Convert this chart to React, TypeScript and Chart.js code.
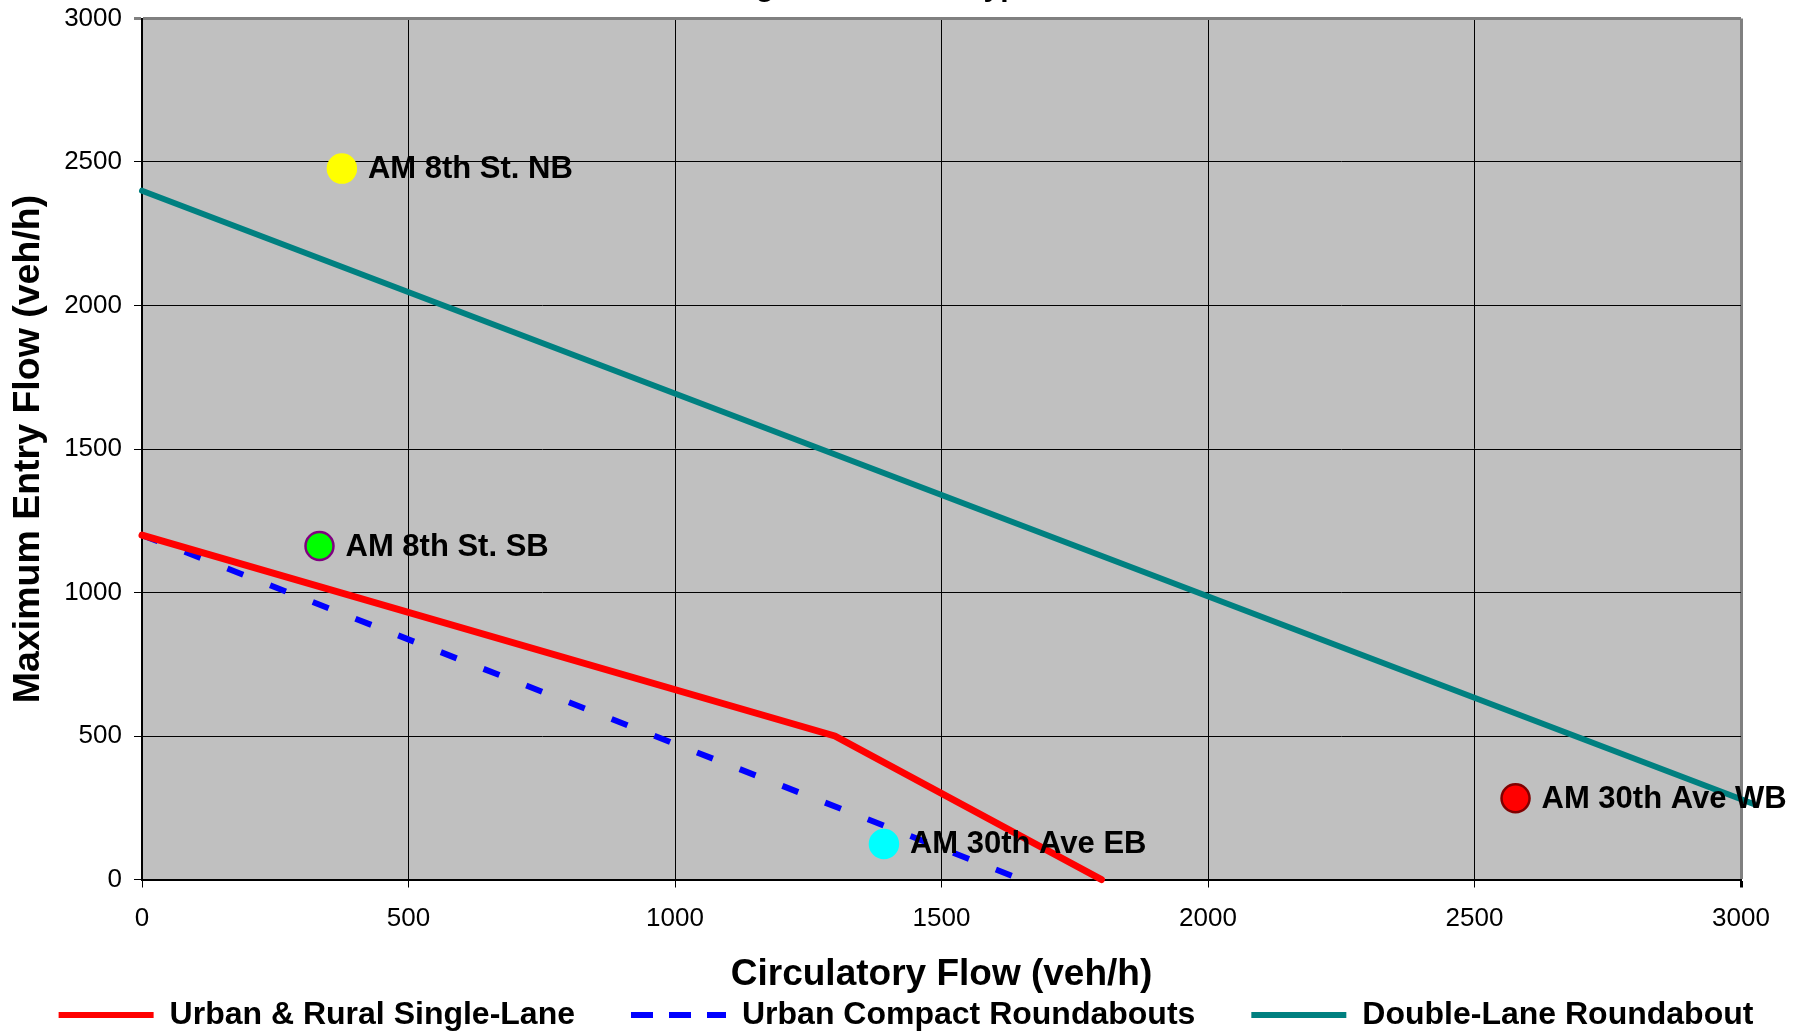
import React, { useEffect, useRef } from "react";
import { Chart, registerables } from "chart.js";

Chart.register(...registerables);

const chartTitle = "AM Peak Hour Volumes Using Roundabout Type";
const xAxisTitle = "Circulatory Flow (veh/h)";
const yAxisTitle = "Maximum Entry Flow (veh/h)";

const seriesNames = ["Urban & Rural Single-Lane", "Urban Compact Roundabouts", "Double-Lane Roundabout"];
const seriesColors = ["#FF0000", "#0000FF", "#008080"];
const seriesDash = [[], [17, 28.85], []];
const legendDash = [[], [22, 16], []];

const singleLaneX = [0, 1300, 1800];
const singleLaneY = [1200, 500, 0];
const compactX = [0, 1650];
const compactY = [1200, 0];
const doubleLaneX = [0, 3025];
const doubleLaneY = [2400, 262];

const pointNames = ["AM 8th St. NB", "AM 8th St. SB", "AM 30th Ave EB", "AM 30th Ave WB"];
const pointX = [375, 333, 1392, 2577];
const pointY = [2477, 1162, 124, 283];
const pointFill = ["#FFFF00", "#00FF00", "#00FFFF", "#FF0000"];
const pointBorder = ["#FFFF00", "#800080", "#00FFFF", "#800000"];

const axisMin = 0;
const axisMax = 3000;
const axisStep = 500;

const FONT = "'Liberation Sans', Arial, Helvetica, sans-serif";
const CANVAS_W = 1812;
const CANVAS_H = 1081;
const SHIFT = 40;
const LEGEND_PAD = 56;

function pairs(xs: number[], ys: number[]) {
  return xs.map((x, i) => ({ x, y: ys[i] }));
}

const plotBackground = {
  id: "plotBackground",
  beforeDraw(chart: any) {
    const { ctx, chartArea } = chart;
    ctx.save();
    ctx.fillStyle = "#C0C0C0";
    ctx.fillRect(chartArea.left, chartArea.top, chartArea.right - chartArea.left, chartArea.bottom - chartArea.top);
    ctx.restore();
  },
};

const pointLabels = {
  id: "pointLabels",
  afterDatasetsDraw(chart: any) {
    const { ctx } = chart;
    ctx.save();
    ctx.font = `bold 31px ${FONT}`;
    ctx.fillStyle = "#000000";
    ctx.textAlign = "left";
    ctx.textBaseline = "middle";
    chart.data.datasets.forEach((ds: any, i: number) => {
      if (!ds.isMarker) return;
      const meta = chart.getDatasetMeta(i);
      const el = meta.data[0];
      if (!el) return;
      ctx.fillText(ds.label, el.x + 26, el.y + 1);
    });
    ctx.restore();
  },
};

const topTitle = {
  id: "topTitle",
  afterDraw(chart: any) {
    const { ctx } = chart;
    ctx.save();
    ctx.font = `bold 30px ${FONT}`;
    ctx.fillStyle = "#000000";
    ctx.textBaseline = "alphabetic";
    ctx.textAlign = "left";
    const idx = chartTitle.indexOf("Using") + 4;
    const pre = ctx.measureText(chartTitle.slice(0, idx)).width;
    const gw = ctx.measureText("g").width;
    const x0 = 765 - pre - gw / 2;
    ctx.fillText(chartTitle, x0, SHIFT - 4);
    ctx.restore();
  },
};

export default function App() {
  const ref = useRef<HTMLCanvasElement | null>(null);

  useEffect(() => {
    if (!ref.current) return;
    Chart.defaults.font.family = FONT;
    Chart.defaults.color = "#000000";

    const lineSets = [
      { data: pairs(singleLaneX, singleLaneY), width: 7, cap: "round" },
      { data: pairs(compactX, compactY), width: 6, cap: "butt" },
      { data: pairs(doubleLaneX, doubleLaneY), width: 6, cap: "round" },
    ].map((s, i) => ({
      label: seriesNames[i],
      data: s.data,
      showLine: true,
      borderColor: seriesColors[i],
      backgroundColor: seriesColors[i],
      borderWidth: s.width,
      borderDash: seriesDash[i],
      borderCapStyle: s.cap,
      borderJoinStyle: "round",
      pointRadius: 0,
      pointHoverRadius: 0,
      clip: false,
      order: 2,
    }));

    const markerSets = pointNames.map((name, i) => ({
      label: name,
      isMarker: true,
      data: [{ x: pointX[i], y: pointY[i] }],
      showLine: false,
      pointRadius: 14,
      pointHoverRadius: 14,
      pointBackgroundColor: pointFill[i],
      pointBorderColor: pointBorder[i],
      pointBorderWidth: 2.5,
      backgroundColor: pointFill[i],
      borderColor: pointBorder[i],
      clip: false,
      order: 1,
    }));

    const gridColor = (c: any) => (c.tick && c.tick.value === axisMax ? "#808080" : "#000000");
    const gridWidth = (c: any) => (c.tick && c.tick.value === axisMax ? 3 : 1);

    const chart = new Chart(ref.current, {
      type: "scatter",
      data: { datasets: [...lineSets, ...markerSets] as any },
      plugins: [plotBackground, pointLabels, topTitle],
      options: {
        responsive: false,
        animation: false,
        events: [],
        layout: { padding: { top: SHIFT + 18.5, right: 0, bottom: 0, left: 0 } },
        plugins: {
          title: { display: false },
          tooltip: { enabled: false },
          legend: {
            display: true,
            position: "bottom",
            labels: {
              usePointStyle: true,
              pointStyle: "line",
              pointStyleWidth: 95,
              padding: LEGEND_PAD,
              color: "#000000",
              font: { family: FONT, size: 32, weight: "bold" },
              generateLabels: () =>
                seriesNames.map((name, i) => ({
                  text: name,
                  datasetIndex: i,
                  hidden: false,
                  fillStyle: seriesColors[i],
                  strokeStyle: seriesColors[i],
                  lineWidth: 6,
                  lineDash: legendDash[i],
                  lineCap: "butt",
                  pointStyle: "line",
                  fontColor: "#000000",
                })),
            },
          },
        },
        scales: {
          x: {
            type: "linear",
            min: axisMin,
            max: axisMax,
            afterFit: (s: any) => {
              s.height = 63.5;
            },
            ticks: {
              stepSize: axisStep,
              padding: 16,
              color: "#000000",
              font: { family: FONT, size: 26 },
              callback: (v: any) => String(v),
            },
            grid: { color: gridColor, lineWidth: gridWidth, tickLength: 8, tickColor: "#000000" },
            border: { display: true, color: "#000000", width: 2 },
            title: {
              display: true,
              text: xAxisTitle,
              color: "#000000",
              font: { family: FONT, size: 37, weight: "bold" },
              padding: { top: 0, bottom: -54.2 },
            },
          },
          y: {
            type: "linear",
            min: axisMin,
            max: axisMax,
            afterFit: (s: any) => {
              s.width = 142;
            },
            ticks: {
              stepSize: axisStep,
              padding: 12,
              color: "#000000",
              font: { family: FONT, size: 26 },
              callback: (v: any) => String(v),
            },
            grid: {
              color: gridColor,
              lineWidth: gridWidth,
              tickLength: 8,
              tickColor: (c: any) => (c.tick && c.tick.value === axisMax ? "#808080" : "#000000"),
            },
            border: { display: true, color: "#000000", width: 2 },
            title: {
              display: true,
              text: yAxisTitle,
              color: "#000000",
              font: { family: FONT, size: 37.5, weight: "bold" },
              padding: { top: 6.5, bottom: 0 },
            },
          },
          yRight: {
            type: "linear",
            position: "right",
            display: true,
            min: axisMin,
            max: axisMax,
            afterFit: (s: any) => {
              s.width = 71;
            },
            ticks: { display: false },
            grid: { display: false, drawTicks: false },
            border: { display: false },
          },
        },
      } as any,
    });

    return () => chart.destroy();
  }, []);

  return (
    <canvas
      ref={ref}
      width={CANVAS_W}
      height={CANVAS_H}
      style={{ position: "fixed", left: 0, top: -SHIFT, width: CANVAS_W, height: CANVAS_H, display: "block" }}
    />
  );
}
